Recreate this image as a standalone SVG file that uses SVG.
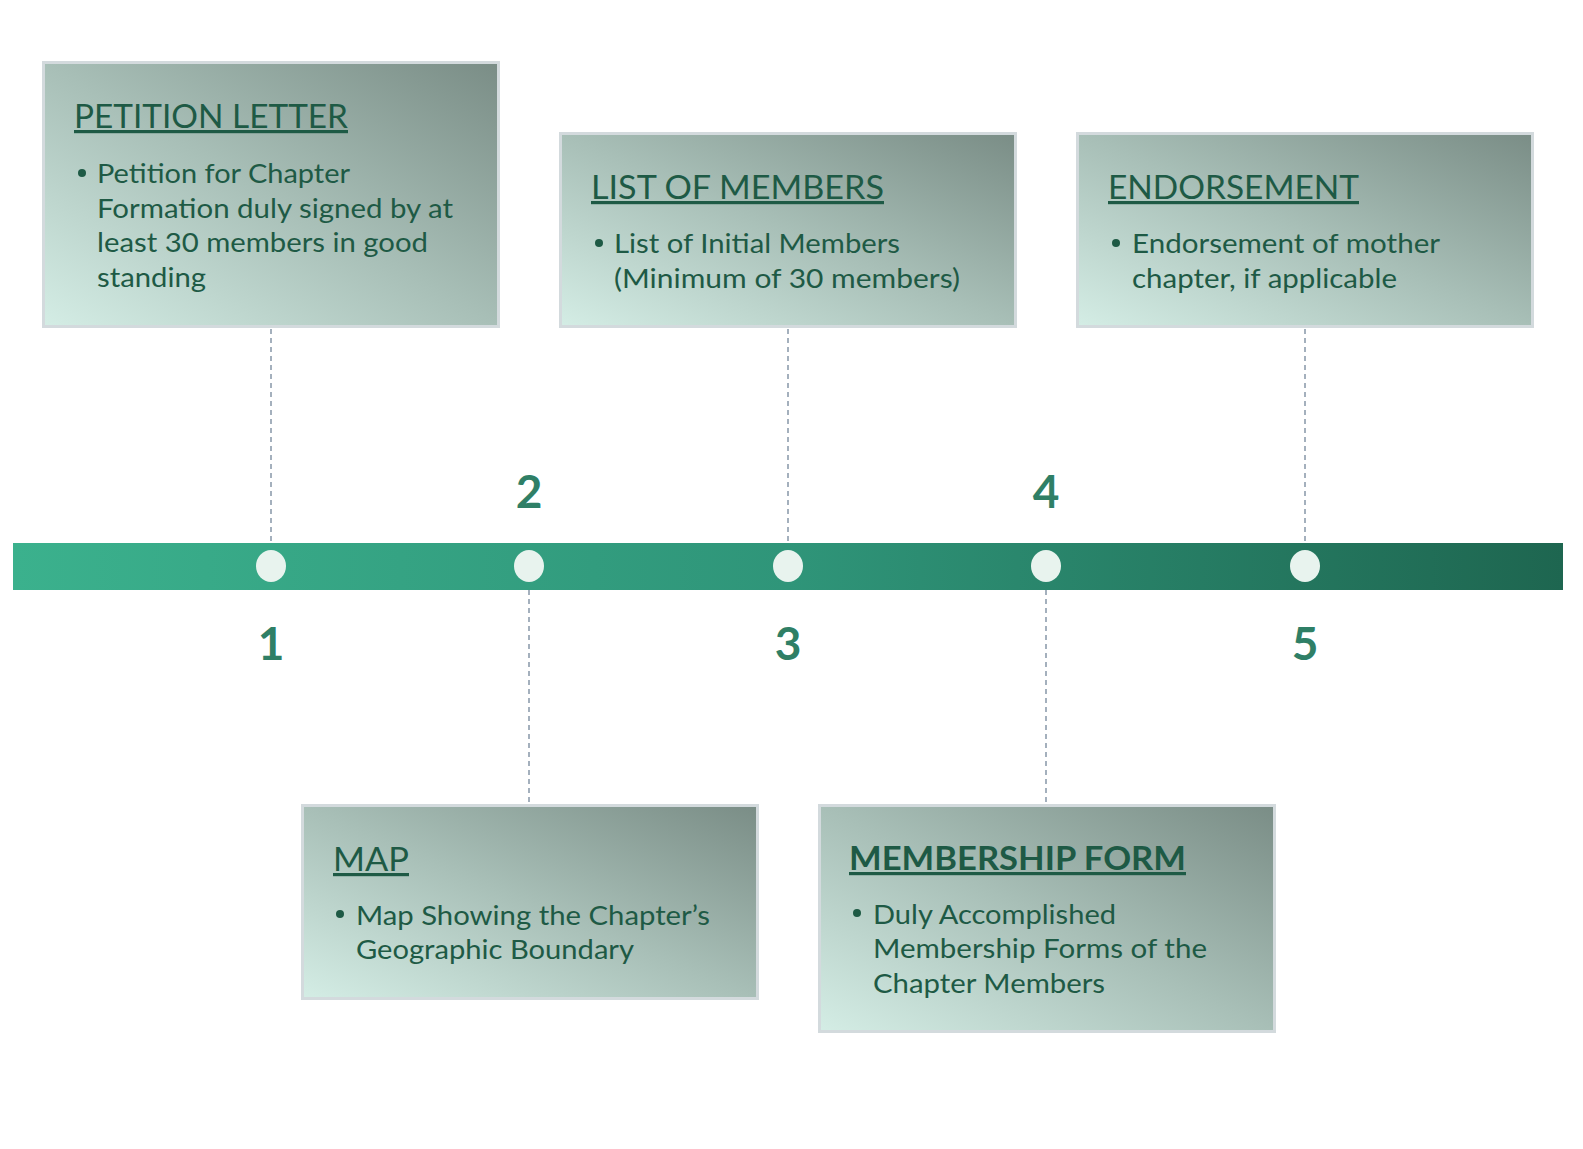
<svg xmlns="http://www.w3.org/2000/svg" width="1583" height="1149" viewBox="0 0 1583 1149">
<defs>
<linearGradient id="bar" x1="0" y1="0" x2="1" y2="0">
<stop offset="0" stop-color="#3bb18d"/>
<stop offset="0.5" stop-color="#2f9579"/>
<stop offset="1" stop-color="#1e6650"/>
</linearGradient>
<linearGradient id="box" x1="0" y1="1" x2="1" y2="0">
<stop offset="0" stop-color="#d4ede5"/>
<stop offset="0.5" stop-color="#a8bfb7"/>
<stop offset="1" stop-color="#7a8d86"/>
</linearGradient>
<style>
.box{fill:url(#box);stroke:#d3dadd;stroke-width:3}
.title{font-family:Lato,"Liberation Sans",sans-serif;font-size:32px;fill:#1e5a45;text-decoration:underline}
.titleb{font-weight:bold}
.body{font-family:Lato,"Liberation Sans",sans-serif;font-size:26.5px;fill:#1e5a45}
.dot{fill:#1e5a45}
.num{font-family:Lato,"Liberation Sans",sans-serif;font-size:46px;font-weight:bold;fill:#2f7f66;text-anchor:middle}
.dash{stroke:#8797a8;stroke-width:1.5;stroke-dasharray:5 4;fill:none}
.node{fill:#e8f3ee}
</style>
</defs>
<rect width="1583" height="1149" fill="#ffffff"/>
<g id="connectors">
<line class="dash" x1="271" y1="329" x2="271" y2="543"/>
<line class="dash" x1="529" y1="590" x2="529" y2="804"/>
<line class="dash" x1="788" y1="329" x2="788" y2="543"/>
<line class="dash" x1="1046" y1="590" x2="1046" y2="804"/>
<line class="dash" x1="1305" y1="329" x2="1305" y2="543"/>
</g>
<g id="timeline">
<rect x="13" y="543" width="1550" height="47" fill="url(#bar)"/>
<ellipse class="node" cx="271" cy="566" rx="15" ry="16"/>
<ellipse class="node" cx="529" cy="566" rx="15" ry="16"/>
<ellipse class="node" cx="788" cy="566" rx="15" ry="16"/>
<ellipse class="node" cx="1046" cy="566" rx="15" ry="16"/>
<ellipse class="node" cx="1305" cy="566" rx="15" ry="16"/>
<text class="num" x="271" y="660">1</text>
<text class="num" x="529" y="508">2</text>
<text class="num" x="788" y="660">3</text>
<text class="num" x="1046" y="508">4</text>
<text class="num" x="1305" y="660">5</text>
</g>
<g id="petition-letter">
<rect class="box" x="43.5" y="62.5" width="455" height="264"/>
<text class="title" x="74" y="128" textLength="274" lengthAdjust="spacingAndGlyphs">PETITION LETTER</text>
<circle class="dot" cx="82" cy="173" r="4"/>
<text class="body" x="97" y="183" textLength="253" lengthAdjust="spacingAndGlyphs">Petition for Chapter</text>
<text class="body" x="97" y="218" textLength="356" lengthAdjust="spacingAndGlyphs">Formation duly signed by at</text>
<text class="body" x="97" y="252" textLength="331" lengthAdjust="spacingAndGlyphs">least 30 members in good</text>
<text class="body" x="97" y="287" textLength="109" lengthAdjust="spacingAndGlyphs">standing</text>
</g>
<g id="list-of-members">
<rect class="box" x="560.5" y="133.5" width="455" height="193"/>
<text class="title" x="591" y="199" textLength="293" lengthAdjust="spacingAndGlyphs">LIST OF MEMBERS</text>
<circle class="dot" cx="599" cy="243" r="4"/>
<text class="body" x="614" y="253" textLength="286" lengthAdjust="spacingAndGlyphs">List of Initial Members</text>
<text class="body" x="614" y="288" textLength="346" lengthAdjust="spacingAndGlyphs">(Minimum of 30 members)</text>
</g>
<g id="endorsement">
<rect class="box" x="1077.5" y="133.5" width="455" height="193"/>
<text class="title" x="1108" y="199" textLength="251" lengthAdjust="spacingAndGlyphs">ENDORSEMENT</text>
<circle class="dot" cx="1116" cy="243" r="4"/>
<text class="body" x="1132" y="253" textLength="308" lengthAdjust="spacingAndGlyphs">Endorsement of mother</text>
<text class="body" x="1132" y="288" textLength="265" lengthAdjust="spacingAndGlyphs">chapter, if applicable</text>
</g>
<g id="map">
<rect class="box" x="302.5" y="805.5" width="455" height="193"/>
<text class="title" x="333" y="871" textLength="76" lengthAdjust="spacingAndGlyphs">MAP</text>
<circle class="dot" cx="340" cy="914" r="4"/>
<text class="body" x="356" y="925" textLength="354" lengthAdjust="spacingAndGlyphs">Map Showing the Chapter’s</text>
<text class="body" x="356" y="959" textLength="278" lengthAdjust="spacingAndGlyphs">Geographic Boundary</text>
</g>
<g id="membership-form">
<rect class="box" x="819.5" y="805.5" width="455" height="226"/>
<text class="title titleb" x="849" y="870" textLength="337" lengthAdjust="spacingAndGlyphs">MEMBERSHIP FORM</text>
<circle class="dot" cx="857" cy="913" r="4"/>
<text class="body" x="873" y="924" textLength="243" lengthAdjust="spacingAndGlyphs">Duly Accomplished</text>
<text class="body" x="873" y="958" textLength="334" lengthAdjust="spacingAndGlyphs">Membership Forms of the</text>
<text class="body" x="873" y="993" textLength="232" lengthAdjust="spacingAndGlyphs">Chapter Members</text>
</g>
</svg>
